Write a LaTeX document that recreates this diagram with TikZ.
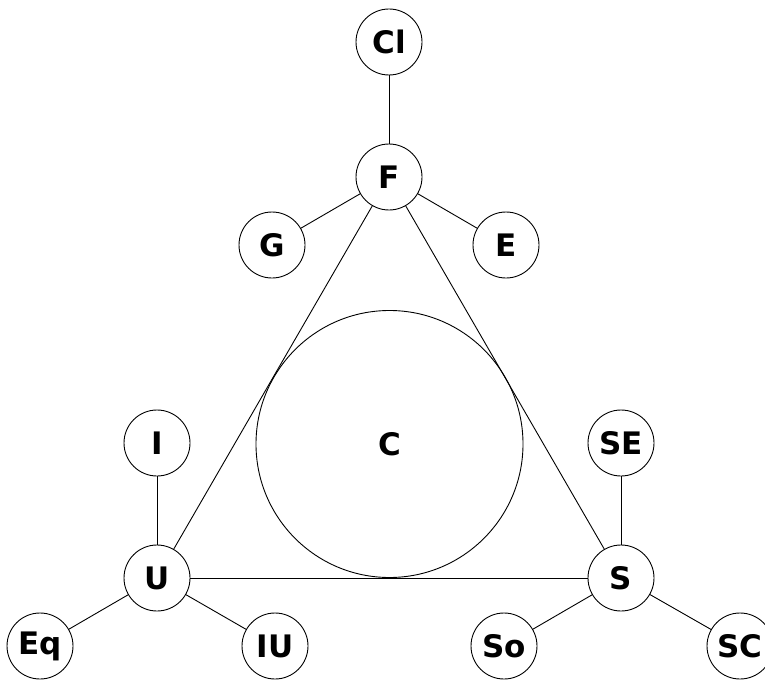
\documentclass[tikz,border=0pt]{standalone}
\usepackage{fontspec}
\setmainfont{DejaVu Sans}
\begin{document}
\begin{tikzpicture}[x=1pt,y=-1pt,
  nd/.style={circle,draw,line width=0.9pt,minimum size=66pt,inner sep=0pt,font=\fontsize{31}{31}\selectfont\bfseries},
  big/.style={circle,draw,line width=0.9pt,minimum size=267pt,inner sep=0pt,font=\fontsize{31}{31}\selectfont\bfseries},
  ln/.style={line width=0.9pt}]
\useasboundingbox (0,0) rectangle (765,682);
\node[big] (C) at (389.5,444) {C};
\node[nd] (Cl) at (389,42) {Cl};
\node[nd] (F) at (389,177) {F};
\node[nd] (G) at (272,245) {G};
\node[nd] (E) at (506,245) {E};
\node[nd] (I) at (157,443) {I};
\node[nd] (SE) at (621,443) {SE};
\node[nd] (U) at (157,578) {U};
\node[nd] (S) at (621,578) {S};
\node[nd] (Eq) at (40,646) {Eq};
\node[nd] (IU) at (275,646) {IU};
\node[nd] (So) at (504,646) {So};
\node[nd] (SC) at (740,646) {SC};
\draw[ln] (Cl) -- (F);
\draw[ln] (F) -- (G);
\draw[ln] (F) -- (E);
\draw[ln] (F) -- (U);
\draw[ln] (F) -- (S);
\draw[ln] (U) -- (S);
\draw[ln] (I) -- (U);
\draw[ln] (U) -- (Eq);
\draw[ln] (U) -- (IU);
\draw[ln] (SE) -- (S);
\draw[ln] (S) -- (So);
\draw[ln] (S) -- (SC);
\end{tikzpicture}
\end{document}
